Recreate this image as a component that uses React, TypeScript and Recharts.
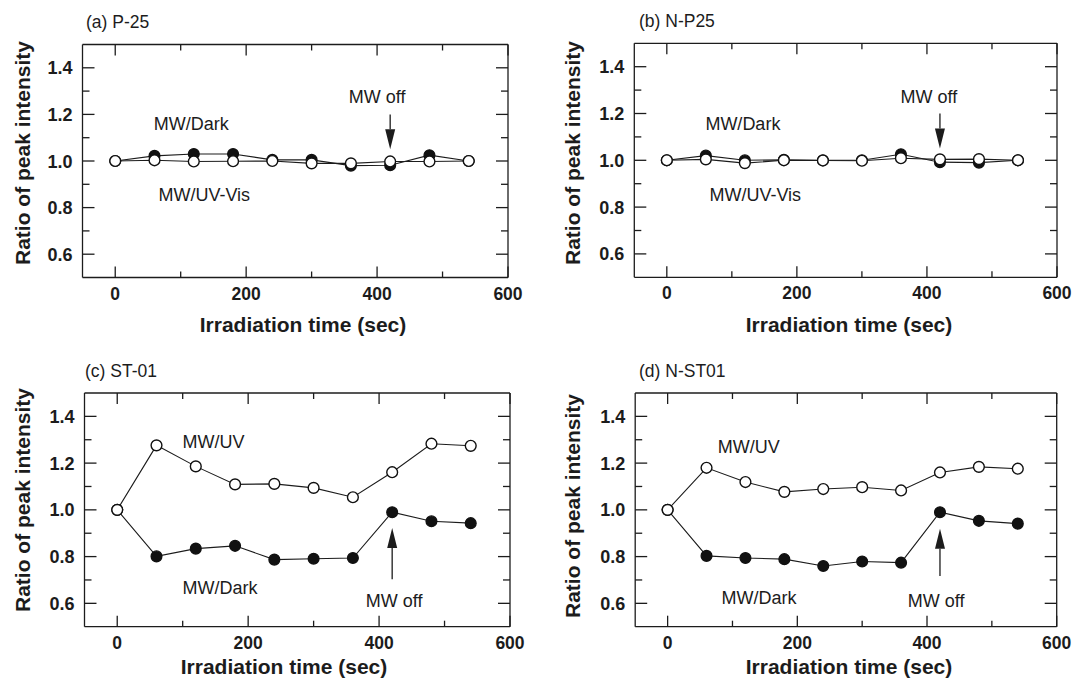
import React from 'react';
import { LineChart, Line, XAxis, YAxis, ReferenceDot, ReferenceLine } from 'recharts';

// irradiation times (sec) shared by all four panels
const times = [0, 60, 120, 180, 240, 300, 360, 420, 480, 540];

// (a) P-25
const p25Dark = [1.0, 1.022, 1.03, 1.03, 1.005, 1.005, 0.98, 0.982, 1.025, 1.0];
const p25UvVis = [1.0, 1.003, 0.998, 0.999, 1.0, 0.99, 0.99, 0.998, 0.998, 1.0];
// (b) N-P25
const np25Dark = [1.0, 1.02, 1.0, 1.002, 1.0, 1.0, 1.026, 0.992, 0.99, 1.0];
const np25UvVis = [1.0, 1.004, 0.988, 1.0, 0.999, 0.998, 1.009, 1.004, 1.005, 1.0];
// (c) ST-01
const st01Dark = [1.0, 0.801, 0.834, 0.846, 0.787, 0.791, 0.794, 0.99, 0.951, 0.943];
const st01Uv = [1.0, 1.276, 1.186, 1.109, 1.111, 1.094, 1.054, 1.161, 1.283, 1.274];
// (d) N-ST01
const nst01Dark = [1.0, 0.803, 0.794, 0.789, 0.76, 0.779, 0.774, 0.99, 0.953, 0.941];
const nst01Uv = [1.0, 1.18, 1.119, 1.077, 1.089, 1.097, 1.083, 1.16, 1.184, 1.176];

const xTicks = [0, 100, 200, 300, 400, 500, 600];
const yTicks = [0.6, 0.7, 0.8, 0.9, 1.0, 1.1, 1.2, 1.3, 1.4];

const FONT = '"Liberation Sans", Arial, Helvetica, sans-serif';
const INK = '#1c1c1c';
const boldText = { fontWeight: 700, fontFamily: FONT };

const isMajorX = (v: number) => v % 200 === 0;
const isMajorY = (v: number) => Math.round(v * 10) % 2 === 0;

// inward tick marks (long = labelled, short = minor), drawn by the axis itself
const renderXTick = (t: any, side: string) => {
  const { x, y, payload } = t;
  const major = isMajorX(payload.value);
  const len = major ? 11 : 6;
  const dir = side === 'bottom' ? -1 : 1;
  return (
    <g>
      <path d={`M${x},${y}L${x},${y + dir * len}`} stroke={INK} strokeWidth={1.3} fill="none" />
      {side === 'bottom' && major ? (
        <text x={x} y={y + 22} textAnchor="middle" fontSize={17.5} fill={INK} style={boldText}>
          {payload.value}
        </text>
      ) : null}
    </g>
  );
};

const renderYTick = (t: any, side: string) => {
  const { x, y, payload } = t;
  const major = isMajorY(payload.value);
  const len = major ? 12 : 7;
  const dir = side === 'left' ? 1 : -1;
  return (
    <g>
      <path d={`M${x},${y}L${x + dir * len},${y}`} stroke={INK} strokeWidth={1.3} fill="none" />
      {side === 'left' && major ? (
        <text x={x - 10} y={y + 6.5} textAnchor="end" fontSize={18} fill={INK} style={boldText}>
          {payload.value.toFixed(1)}
        </text>
      ) : null}
    </g>
  );
};

// arrow drawn from (x1,y1) tail to (x2,y2) tip
const Arrow = (props: any) => {
  const { x1, y1, x2, y2 } = props;
  const dx = x2 - x1;
  const dy = y2 - y1;
  const len = Math.sqrt(dx * dx + dy * dy) || 1;
  const ux = dx / len;
  const uy = dy / len;
  const head = 20;
  const half = 5;
  const bx = x2 - ux * head;
  const by = y2 - uy * head;
  const pts = `${x2},${y2} ${bx - uy * half},${by + ux * half} ${bx + uy * half},${by - ux * half}`;
  return (
    <g>
      <line x1={x1} y1={y1} x2={bx} y2={by} stroke={INK} strokeWidth={1.3} />
      <polygon points={pts} fill={INK} />
    </g>
  );
};

const panels = [
  {
    id: 'a', title: '(a) P-25', dark: p25Dark, light: p25UvVis,
    left: 0, top: 0, margin: { top: 43.5, right: 27, bottom: 62.5, left: 81.5 },
    notes: [
      { text: 'MW/Dark', x: 116, y: 1.16 },
      { text: 'MW/UV-Vis', x: 136, y: 0.856 },
      { text: 'MW off', x: 400, y: 1.275 },
    ],
    arrow: [1.2, 1.05],
    titleX: 86, titleY: 28, yTitleX: 22, yTitleY: 153, xTitleX: 303, xTitleY: 332,
  },
  {
    id: 'b', title: '(b) N-P25', dark: np25Dark, light: np25UvVis,
    left: 536, top: 0, margin: { top: 42.3, right: 14, bottom: 62.7, left: 97.3 },
    notes: [
      { text: 'MW/Dark', x: 117, y: 1.158 },
      { text: 'MW/UV-Vis', x: 136, y: 0.855 },
      { text: 'MW off', x: 403, y: 1.273 },
    ],
    arrow: [1.2, 1.05],
    titleX: 639, titleY: 27, yTitleX: 572, yTitleY: 153, xTitleX: 849, xTitleY: 332,
  },
  {
    id: 'c', title: '(c) ST-01', dark: st01Dark, light: st01Uv,
    left: 0, top: 341, margin: { top: 51, right: 25, bottom: 54.3, left: 83.5 },
    notes: [
      { text: 'MW/UV', x: 147, y: 1.29 },
      { text: 'MW/Dark', x: 157, y: 0.669 },
      { text: 'MW off', x: 423, y: 0.612 },
    ],
    arrow: [0.703, 0.922],
    titleX: 85, titleY: 377, yTitleX: 22, yTitleY: 500, xTitleX: 284, xTitleY: 674,
  },
  {
    id: 'd', title: '(d) N-ST01', dark: nst01Dark, light: nst01Uv,
    left: 536, top: 341, margin: { top: 51, right: 14.3, bottom: 54.3, left: 98.2 },
    notes: [
      { text: 'MW/UV', x: 125, y: 1.27 },
      { text: 'MW/Dark', x: 141, y: 0.624 },
      { text: 'MW off', x: 414, y: 0.613 },
    ],
    arrow: [0.717, 0.919],
    titleX: 639, titleY: 377, yTitleX: 572, yTitleY: 506, xTitleX: 849, xTitleY: 674,
  },
];

const frame = { stroke: INK, strokeWidth: 1.3 };
const xDomain: [number, number] = [-50, 600];
const yDomain: [number, number] = [0.5, 1.5];

const Panel = ({ p }: any) => {
  const rows = times.map((t, i) => ({ t, dark: p.dark[i], light: p.light[i] }));
  return (
    <div style={{ position: 'absolute', left: p.left, top: p.top }}>
      <LineChart width={536} height={341} data={rows} margin={p.margin}>
        <XAxis xAxisId="b" dataKey="t" type="number" domain={xDomain} allowDataOverflow ticks={xTicks}
          interval={0} height={1} tickSize={0} tickMargin={0} tickLine={false} axisLine={frame}
          tick={(t: any) => renderXTick(t, 'bottom')} />
        <XAxis xAxisId="t" orientation="top" dataKey="t" type="number" domain={xDomain} allowDataOverflow ticks={xTicks}
          interval={0} height={1} tickSize={0} tickMargin={0} tickLine={false} axisLine={frame}
          tick={(t: any) => renderXTick(t, 'top')} />
        <YAxis yAxisId="l" type="number" domain={yDomain} allowDataOverflow ticks={yTicks}
          interval={0} width={1} tickSize={0} tickMargin={0} tickLine={false} axisLine={frame}
          tick={(t: any) => renderYTick(t, 'left')} />
        <YAxis yAxisId="r" orientation="right" type="number" domain={yDomain} allowDataOverflow ticks={yTicks}
          interval={0} width={1} tickSize={0} tickMargin={0} tickLine={false} axisLine={frame}
          tick={(t: any) => renderYTick(t, 'right')} />

        <Line xAxisId="b" yAxisId="l" type="linear" dataKey="dark" stroke={INK} strokeWidth={1.1}
          dot={{ r: 5.4, fill: '#111', stroke: '#111', strokeWidth: 1.3 }} isAnimationActive={false} />
        <Line xAxisId="b" yAxisId="l" type="linear" dataKey="light" stroke={INK} strokeWidth={1.1}
          dot={{ r: 5.4, fill: '#fff', stroke: '#111', strokeWidth: 1.4 }} isAnimationActive={false} />
        {p.notes.map((n: any) => (
          <ReferenceDot key={n.text} xAxisId="b" yAxisId="l" x={n.x} y={n.y} r={0} fill="none" stroke="none"
            label={{ value: n.text, position: 'center', fontSize: 18, fill: INK, fontFamily: FONT }} />
        ))}
        <ReferenceLine xAxisId="b" yAxisId="l"
          segment={[{ x: 420, y: p.arrow[0] }, { x: 420, y: p.arrow[1] }]}
          shape={(s: any) => <Arrow {...s} />} />
      </LineChart>
    </div>
  );
};

export default function App() {
  return (
    <div style={{ position: 'absolute', left: 0, top: 0, width: 1072, height: 682, background: '#fff', fontFamily: FONT }}>
      {panels.map((p) => <Panel key={p.id} p={p} />)}
      <svg width={1072} height={682} style={{ position: 'absolute', left: 0, top: 0, pointerEvents: 'none' }}>
        {panels.map((p) => (
          <g key={p.id} fill={INK} fontFamily={FONT}>
            <text x={p.titleX} y={p.titleY} fontSize={17.5}>{p.title}</text>
            <text x={p.xTitleX} y={p.xTitleY} fontSize={21} fontWeight="bold" textAnchor="middle">
              Irradiation time (sec)
            </text>
            <text x={p.yTitleX} y={p.yTitleY} fontSize={21} fontWeight="bold" textAnchor="middle"
              dominantBaseline="central" transform={`rotate(-90 ${p.yTitleX} ${p.yTitleY})`}>
              Ratio of peak intensity
            </text>
          </g>
        ))}
      </svg>
    </div>
  );
}
